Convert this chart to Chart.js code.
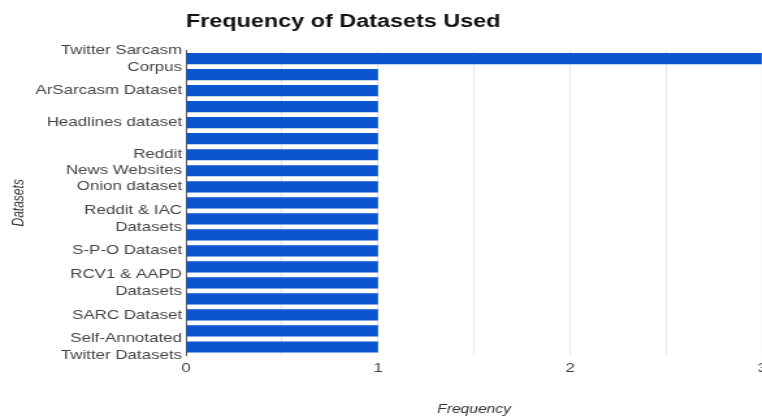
<!DOCTYPE html>
<html>
<head>
<meta charset="utf-8">
<script src="https://cdn.jsdelivr.net/npm/chart.js@4.4.0/dist/chart.umd.min.js"></script>
<style>
    html, body { margin: 0; padding: 0; background: #fff; overflow: hidden; width: 762px; height: 417px; }
    /* the source picture is stretched sideways, so the chart is drawn narrow and scaled in x */
    #wrap { position: absolute; left: 0; top: 0; width: 596px; height: 417px; transform: scaleX(1.3); transform-origin: 0 0; }
</style>
</head>
<body>
<div id="wrap"><canvas id="myChart"></canvas></div>
<script>
// datasets on the y axis, top to bottom; '' = bar with no label shown in the picture
const datasetNames = [
    ['Twitter Sarcasm', 'Corpus'],
    '',
    'ArSarcasm Dataset',
    '',
    'Headlines dataset',
    '',
    'Reddit',
    'News Websites',
    'Onion dataset',
    '',
    ['Reddit & IAC', 'Datasets'],
    '',
    'S-P-O Dataset',
    '',
    ['RCV1 & AAPD', 'Datasets'],
    '',
    'SARC Dataset',
    '',
    ['Self-Annotated', 'Twitter Datasets']
];
const frequency = [3, 1, 1, 1, 1, 1, 1, 1, 1, 1, 1, 1, 1, 1, 1, 1, 1, 1, 1];
const freqTicks = [0, 1, 2, 3];

const fontFamily = "'Liberation Sans', Arial, sans-serif";

var ctx = document.getElementById('myChart').getContext('2d');
const barChart = new Chart(ctx, {
    type: 'bar',
    data: {
        labels: datasetNames,
        datasets: [{
            label: 'Frequency',
            data: frequency,
            backgroundColor: '#0b55cf',
            borderWidth: 0,
            barPercentage: 0.7,
            categoryPercentage: 1
        }]
    },
    options: {
        indexAxis: 'y',
        responsive: true,
        maintainAspectRatio: false,
        animation: false,
        layout: { padding: { left: 0, right: 0, top: 0, bottom: 0 } },
        plugins: {
            legend: { display: false },
            tooltip: { enabled: false },
            title: {
                display: true,
                text: 'Frequency of Datasets Used',
                align: 'start',
                fullSize: false,
                color: '#111',
                font: { family: fontFamily, size: 18, weight: 'bold' },
                padding: { top: 11, bottom: 18 }
            }
        },
        scales: {
            x: {
                min: 0,
                max: 3,
                ticks: {
                    stepSize: 0.5,
                    color: '#444',
                    padding: 6,
                    font: { family: fontFamily, size: 13 },
                    callback: function(value) {
                        return freqTicks.includes(value) ? String(value) : '';
                    }
                },
                grid: { color: '#e4e4e4', drawTicks: false },
                border: { display: false },
                title: {
                    display: true,
                    text: 'Frequency',
                    color: '#333',
                    font: { family: fontFamily, size: 12, style: 'italic' },
                    padding: { top: 20, bottom: 0 }
                }
            },
            y: {
                ticks: {
                    autoSkip: false,
                    color: '#444',
                    padding: 3,
                    font: { family: fontFamily, size: 13, lineHeight: 1.3 }
                },
                grid: { display: false, drawTicks: false },
                border: { display: true, color: '#555', width: 1 },
                title: {
                    display: true,
                    text: 'Datasets',
                    color: '#333',
                    font: { family: fontFamily, size: 12, style: 'italic' },
                    padding: { top: 7, bottom: 0 }
                },
                afterFit: function(scale) {
                    scale.width = 143;
                }
            }
        }
    }
});
</script>
</body>
</html>
